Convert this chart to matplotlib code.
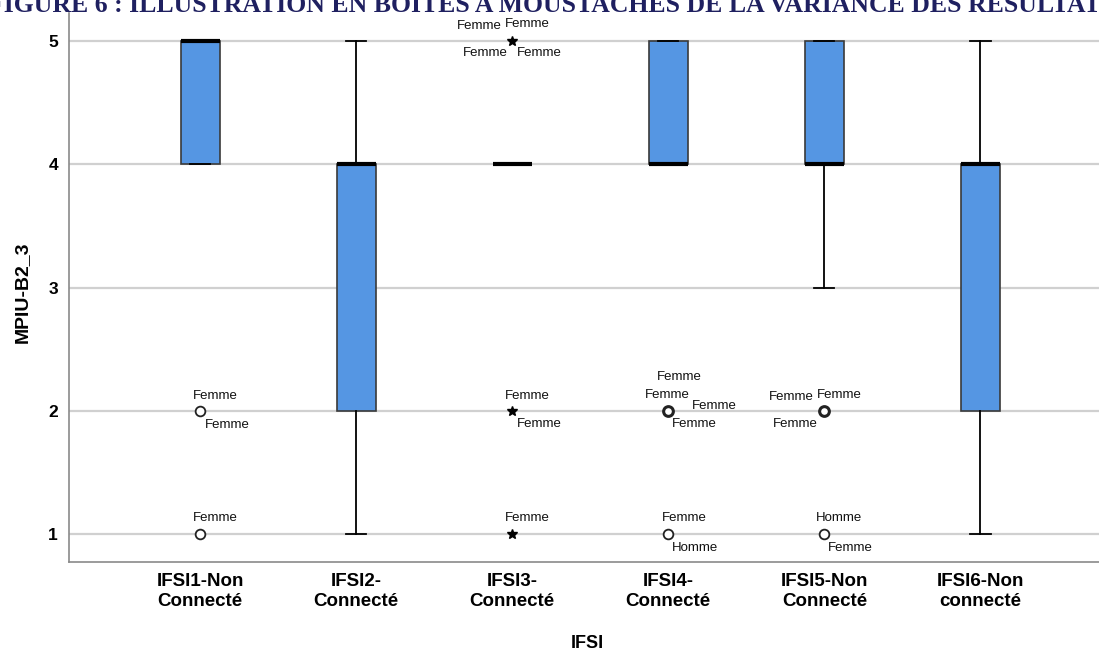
import matplotlib
matplotlib.use("Agg")
import matplotlib.pyplot as plt

# ---------------- data ----------------
categories = ["IFSI1-Non\nConnecté", "IFSI2-\nConnecté", "IFSI3-\nConnecté",
              "IFSI4-\nConnecté", "IFSI5-Non\nConnecté", "IFSI6-Non\nconnecté"]
q1 = [4, 2, 4, 4, 4, 2]
medians = [5, 4, 4, 4, 4, 4]
q3 = [5, 4, 4, 5, 5, 4]
whisker_low = [4, 1, 4, 4, 3, 1]
whisker_high = [5, 5, 4, 5, 5, 5]

# outliers: group index, value, kind, labels
outlier_group = [0, 0, 2, 2, 2, 3, 3, 4, 4]
outlier_value = [2, 1, 5, 2, 1, 2, 1, 2, 1]
outlier_kind = ["o", "o", "*", "*", "*", "o", "o", "o", "o"]
outlier_labels = [
    ["Femme", "Femme"],
    ["Femme"],
    ["Femme", "Femme", "Femme", "Femme"],
    ["Femme", "Femme"],
    ["Femme"],
    ["Femme", "Femme", "Femme", "Femme"],
    ["Femme", "Homme"],
    ["Femme", "Femme", "Femme"],
    ["Homme", "Femme"],
]
# label offsets (pixels) relative to the marker -- layout only
label_offsets = [
    [(15, 15), (27, -14)],
    [(15, 16)],
    [(-33, 15), (15, 17), (-27, -12), (27, -12)],
    [(15, 15), (27, -13)],
    [(15, 16)],
    [(11, 34), (-1, 16), (46, 5), (26, -13)],
    [(16, 16), (27, -14)],
    [(-33, 14), (15, 16), (-29, -13)],
    [(15, 16), (26, -14)],
]

yticks = [1, 2, 3, 4, 5]
title_text = "FIGURE 6 : ILLUSTRATION EN BOITES A MOUSTACHES DE LA VARIANCE DES RESULTATS"
xlabel = "IFSI"
ylabel = "MPIU-B2_3"

# ---------------- figure ----------------
W, H = 1099, 653
fig = plt.figure(figsize=(W / 100, H / 100), dpi=100)
ax = fig.add_axes([69 / W, 1 - 562 / H, (W - 69) / W, (562 - 13) / H])

positions = list(range(1, len(categories) + 1))
stats = []
for i in range(len(categories)):
    stats.append(dict(med=medians[i], q1=q1[i], q3=q3[i],
                      whislo=whisker_low[i], whishi=whisker_high[i], fliers=[]))

box_color = "#5596e3"
ax.bxp(stats, positions=positions, widths=0.25, patch_artist=True,
       showfliers=False,
       boxprops=dict(facecolor=box_color, edgecolor="#3a3a3a", linewidth=1.2),
       medianprops=dict(color="black", linewidth=3.0, solid_capstyle="butt"),
       whiskerprops=dict(color="black", linewidth=1.3),
       capprops=dict(color="black", linewidth=1.3),
       capwidths=0.13, zorder=3)

for g, v, k, labs, offs in zip(outlier_group, outlier_value, outlier_kind,
                               outlier_labels, label_offsets):
    x = positions[g]
    if k == "o":
        ax.plot([x], [v], marker="o", markersize=7, markerfacecolor="white",
                markeredgecolor="#222222", markeredgewidth=1.3 if len(labs) < 3 else 2.2,
                linestyle="none", zorder=4)
    else:
        ax.plot([x], [v], marker="*", markersize=7.5, color="black",
                linestyle="none", zorder=4)
    for t, (dx, dy) in zip(labs, offs):
        ax.annotate(t, xy=(x, v), xytext=(dx, dy), textcoords="offset pixels",
                    ha="center", va="center", fontsize=9.5,
                    family="Liberation Sans", color="#111111", zorder=5)

ax.set_xlim(0.16, 6.76)
ax.set_ylim(0.773, 5.227)
ax.set_yticks(yticks)
ax.set_yticklabels([str(t) for t in yticks], fontsize=12.5, fontweight="bold",
                   family="Liberation Sans")
ax.set_xticks(positions)
ax.set_xticklabels(categories, fontsize=13.5, fontweight="bold",
                   family="Liberation Sans", linespacing=1.25)
ax.tick_params(axis="y", length=0, pad=8)
ax.tick_params(axis="x", length=0, pad=8)
ax.grid(axis="y", color="#d0d0d0", linewidth=1.6, zorder=0)
ax.set_axisbelow(True)
for s in ["top", "right"]:
    ax.spines[s].set_visible(False)
for s in ["left", "bottom"]:
    ax.spines[s].set_color("#8a8a8a")
    ax.spines[s].set_linewidth(1.2)

fig.text(22 / W, 1 - 292 / H, ylabel, fontsize=14, fontweight="bold",
         family="Liberation Sans", rotation=90, ha="center", va="center")
fig.text(587 / W, 1 - 643 / H, xlabel, fontsize=13, fontweight="bold",
         family="Liberation Sans", ha="center", va="center")

fig.text(-12 / W, 1 - 12 / H, title_text, fontsize=18.5, fontweight="bold",
         family="Liberation Serif", color="#1f2060", ha="left", va="baseline")

fig.savefig("out.png", dpi=100)
